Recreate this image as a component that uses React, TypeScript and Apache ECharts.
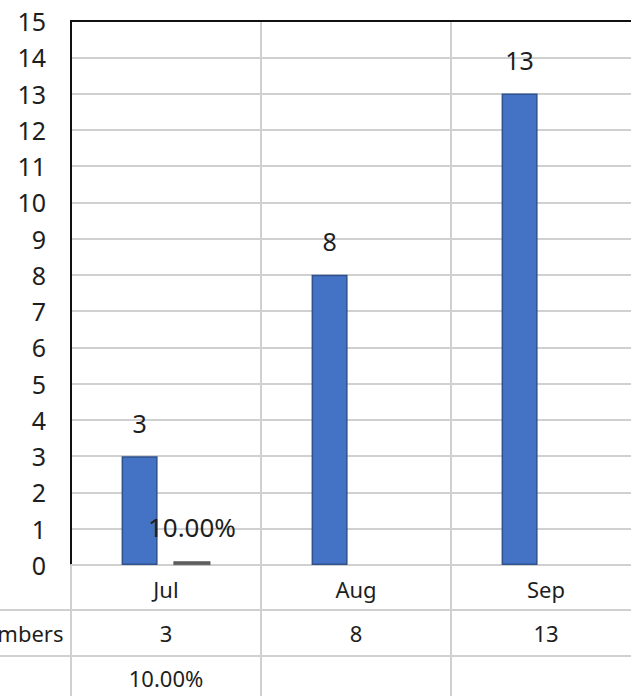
import React, { useEffect, useRef } from "react";
import * as echarts from "echarts";

const categories = ["Jul", "Aug", "Sep"];
const numbers = [3, 8, 13];
const percentages: (number | null)[] = [0.1, null, null];
const seriesNames = ["Numbers", "Percentage"];

const fmtPct = (v: number | null) => (v == null ? "" : (v * 100).toFixed(2) + "%");

const FONT = "'Noto Sans', 'Open Sans', sans-serif";
const TEXT = "#1e1e1e";
const GRID = "#d0d0d0";

export default function App() {
  const ref = useRef<HTMLDivElement>(null);
  useEffect(() => {
    document.body.style.margin = "0";
    const chart = echarts.init(ref.current!, undefined, { renderer: "svg" });
    const gridLeft = 171;
    const plotW = 570;
    chart.setOption({
      animation: false,
      textStyle: { fontFamily: FONT },
      grid: { left: gridLeft, top: 21, width: plotW, bottom: 131, containLabel: false },
      xAxis: [
        {
          type: "category",
          data: categories,
          position: "bottom",
          axisLine: { show: true, lineStyle: { color: GRID, width: 2 } },
          axisTick: { show: true, length: 131, lineStyle: { color: GRID, width: 2 } },
          splitLine: { show: true, lineStyle: { color: GRID, width: 2 } },
          axisLabel: { color: TEXT, fontSize: 22, margin: 13, fontFamily: FONT },
        },
        {
          type: "category",
          data: numbers.map(String),
          position: "bottom",
          axisLine: { show: false },
          axisTick: { show: false },
          splitLine: { show: false },
          axisLabel: { color: TEXT, fontSize: 22, margin: 57, fontFamily: FONT },
        },
        {
          type: "category",
          data: percentages.map(fmtPct),
          position: "bottom",
          axisLine: { show: false },
          axisTick: { show: false },
          splitLine: { show: false },
          axisLabel: { color: TEXT, fontSize: 22, margin: 102, fontFamily: FONT },
        },
        {
          type: "category",
          data: categories,
          position: "top",
          axisLine: { show: true, lineStyle: { color: "#111", width: 2 } },
          axisTick: { show: false },
          splitLine: { show: false },
          axisLabel: { show: false },
        },
      ],
      yAxis: {
        type: "value",
        min: 0,
        max: 15,
        interval: 1,
        axisLine: { show: true, lineStyle: { color: "#111", width: 2 } },
        axisTick: { show: false },
        splitLine: { show: true, lineStyle: { color: GRID, width: 2 } },
        axisLabel: { color: TEXT, fontSize: 25, margin: 25, fontFamily: FONT },
      },
      series: [
        {
          name: seriesNames[0],
          type: "bar",
          data: numbers,
          barWidth: 36,
          barGap: "44%",
          itemStyle: { color: "#4472C4", borderColor: "#2F528F", borderWidth: 1.5 },
          label: { show: true, position: "top", distance: 21, fontSize: 25, color: TEXT, fontFamily: FONT },
        },
        {
          name: seriesNames[1],
          type: "bar",
          data: percentages,
          barWidth: 37,
          itemStyle: { color: "#5f5f5f", borderColor: "#4a4a4a", borderWidth: 0.5 },
          label: {
            show: true,
            position: "top",
            distance: 21,
            fontSize: 26,
            color: TEXT,
            fontFamily: FONT,
            formatter: (p: any) => fmtPct(p.value),
          },
        },
      ],
      graphic: [
        { type: "line", shape: { x1: 0, y1: 610, x2: 800, y2: 610 }, style: { stroke: GRID, lineWidth: 2 } },
        { type: "line", shape: { x1: 0, y1: 656, x2: 800, y2: 656 }, style: { stroke: GRID, lineWidth: 2 } },
        {
          type: "text",
          x: 67,
          y: 633,
          style: { text: seriesNames[0], fontSize: 22, fontFamily: FONT, fill: TEXT, textAlign: "left", textVerticalAlign: "middle" },
        },
      ],
    });
    return () => chart.dispose();
  }, []);
  return (
    <div style={{ position: "relative", width: 631, height: 696, overflow: "hidden" }}>
      <div ref={ref} style={{ position: "absolute", left: -100, top: 0, width: 800, height: 696 }} />
    </div>
  );
}
